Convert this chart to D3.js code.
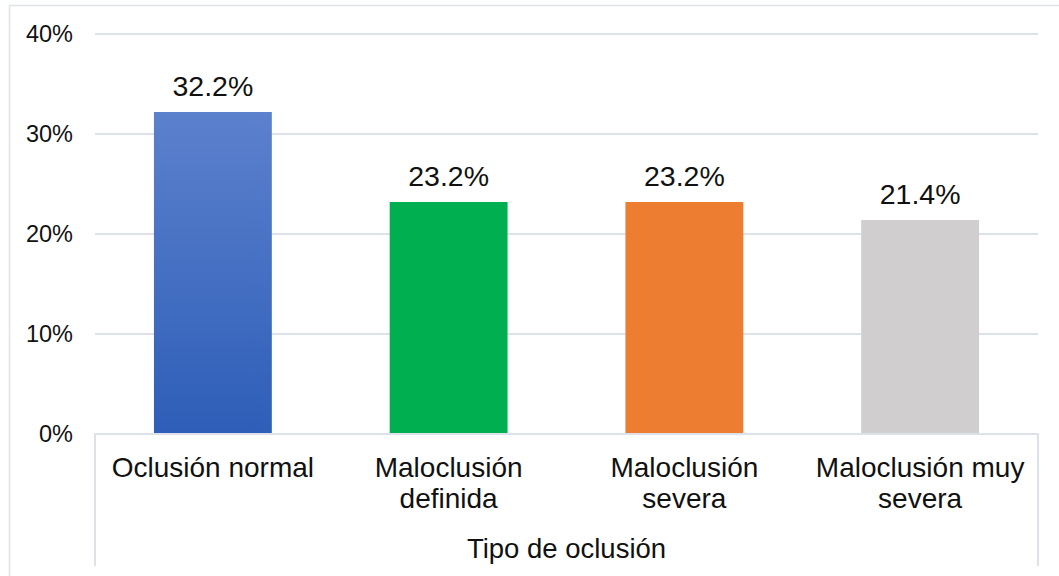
<!DOCTYPE html>
<html><head><meta charset="utf-8">
<script src="https://cdn.jsdelivr.net/npm/d3@7"></script>
<style>html,body{margin:0;padding:0;background:#fff;}svg{display:block;font-family:"Liberation Sans",Arial,sans-serif;}</style>
</head><body>
<svg id="c" width="1059" height="576"></svg>
<script>
const categories = ["Oclusión normal", "Maloclusión definida", "Maloclusión severa", "Maloclusión muy severa"];
const values = [32.2, 23.2, 23.2, 21.4];
const colors = ["url(#blueGrad)", "#00b050", "#ed7d31", "#d0cece"];
const yTicks = [0, 10, 20, 30, 40];
const axisTitle = "Tipo de oclusión";

(function(){
const svg = d3.select("#c");
const defs = svg.append("defs");
const g = defs.append("linearGradient").attr("id","blueGrad").attr("x1",0).attr("y1",0).attr("x2",0).attr("y2",1);
g.append("stop").attr("offset","0%").attr("stop-color","#5c81cd");
g.append("stop").attr("offset","100%").attr("stop-color","#2e5eb8");

const pLeft = 95, pRight = 1038, pTop = 34, pBottom = 434;
const x = d3.scaleBand().domain(categories).range([pLeft, pRight]).paddingInner(0.5).paddingOuter(0.25);
const y = d3.scaleLinear().domain([0, 40]).range([pBottom, pTop]);

// outer border
svg.append("path").attr("d","M9.5,576 V5.5 H1059").attr("fill","none").attr("stroke","#dfe3ea").attr("stroke-width",1.5);

// gridlines
svg.append("g").selectAll("line").data(yTicks.filter(d=>d>0)).join("line")
  .attr("x1",pLeft).attr("x2",pRight).attr("y1",d=>y(d)).attr("y2",d=>y(d))
  .attr("stroke","#dde2ea").attr("stroke-width",2);

// y tick labels
svg.append("g").selectAll("text").data(yTicks).join("text")
  .attr("x",73).attr("y",d=>y(d)).attr("dy","0.36em").attr("text-anchor","end")
  .attr("font-size",23.5).attr("fill","#111").text(d=>d+"%");

// bars
svg.append("g").selectAll("rect").data(values).join("rect")
  .attr("x",(d,i)=>x(categories[i])).attr("width",x.bandwidth())
  .attr("y",d=>y(d)).attr("height",d=>pBottom-y(d))
  .attr("fill",(d,i)=>colors[i]);

// value labels
svg.append("g").selectAll("text").data(values).join("text")
  .attr("x",(d,i)=>x(categories[i])+x.bandwidth()/2).attr("y",d=>y(d)-16)
  .attr("text-anchor","middle").attr("font-size",28.5).attr("fill","#111")
  .text(d=>d.toFixed(1)+"%");

// axis lines
svg.append("path").attr("d",`M${pLeft},566 V${pBottom} H${pRight} V566`).attr("fill","none")
  .attr("stroke","#dde2ea").attr("stroke-width",2);

// category labels with wrapping
const catG = svg.append("g");
categories.forEach(c=>{
  const cx = x(c)+x.bandwidth()/2;
  const t = catG.append("text").attr("x",cx).attr("y",477)
    .attr("text-anchor","middle").attr("font-size",28).attr("fill","#111");
  const words = c.split(" ");
  let line = [];
  let ts = t.append("tspan").attr("x",cx).attr("dy",0);
  words.forEach(w=>{
    line.push(w);
    ts.text(line.join(" "));
    if (ts.node().getComputedTextLength() > 228 && line.length>1) {
      line.pop(); ts.text(line.join(" "));
      line = [w];
      ts = t.append("tspan").attr("x",cx).attr("dy",31).text(w);
    }
  });
});

// axis title
svg.append("text").attr("x",(pLeft+pRight)/2).attr("y",558).attr("text-anchor","middle")
  .attr("font-size",27.5).attr("fill","#111").text(axisTitle);
})();
</script>
</body></html>
